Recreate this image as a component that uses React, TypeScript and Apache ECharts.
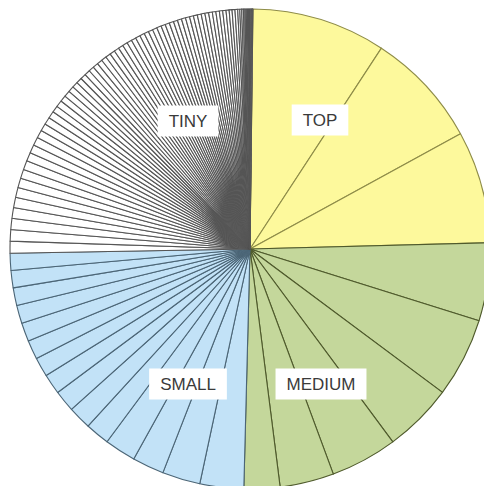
import React, { useEffect, useRef } from "react";
import * as echarts from "echarts";

// Slice values (read as degrees of the full circle), in clockwise order from 12 o'clock
const topValues = [32.5, 28.1, 27.2];
const mediumValues = [18.9, 19.3, 16.8, 16.2, 13.1, 8.7];
const smallValues = [10.6, 9.2, 7.7, 7.6, 5.9, 5.6, 5.2, 4.9, 4.7, 4.6, 4.5, 4.4, 4.3, 4.2, 4.1];
const tinyValues = [
  2.9, 2.8, 2.7, 2.6, 2.5, 2.4, 2.3, 2.2, 2.2, 2.1, 2.0, 2.0, 1.9, 1.8, 1.8, 1.7, 1.6, 1.6,
  1.5, 1.5, 1.4, 1.4, 1.4, 1.35, 1.35, 1.3, 1.3, 1.3, 1.25, 1.25, 1.25, 1.2, 1.2, 1.2, 1.2,
  1.15, 1.15, 1.15, 1.1, 1.1, 1.1, 1.1, 1.05, 1.05, 1.05, 1.0, 1.0, 1.0, 1.0, 0.95, 0.95,
  0.95, 0.9, 0.9, 0.9, 0.85, 0.85, 0.8, 0.8, 0.75, 0.7, 0.7, 0.65,
  0.5, 0.45, 0.4, 0.35, 0.3, 0.28, 0.25, 0.22, 0.2, 0.18, 0.15, 0.12, 0.1, 0.08, 0.06,
];

const groupLabels = ["TOP", "MEDIUM", "SMALL", "TINY"];

export default function App() {
  const ref = useRef<HTMLDivElement>(null);
  useEffect(() => {
    if (!ref.current) return;
    const chart = echarts.init(ref.current, null, { renderer: "svg" });
    const groups = [
      { name: "TOP", values: topValues, fill: "#fdf99c", stroke: "#8e8c48" },
      { name: "MEDIUM", values: mediumValues, fill: "#c4d79b", stroke: "#4f5a2c" },
      { name: "SMALL", values: smallValues, fill: "#c2e2f7", stroke: "#4b6576" },
      { name: "TINY", values: tinyValues, fill: "#ffffff", stroke: "#555555" },
    ];
    const data: any[] = [];
    groups.forEach((g) => {
      g.values.forEach((v, i) => {
        data.push({
          name: g.name + "-" + (i + 1),
          value: v,
          itemStyle: { color: g.fill, borderColor: g.stroke, borderWidth: 1.1 },
        });
      });
    });
    const labelPos: Record<string, [number, number]> = {
      TOP: [320, 120],
      MEDIUM: [321, 384],
      SMALL: [188, 384],
      TINY: [188, 121],
    };
    chart.setOption({
      animation: false,
      backgroundColor: "#ffffff",
      series: [
        {
          type: "pie",
          center: [250, 249],
          radius: [0, 240],
          startAngle: 89.3,
          clockwise: true,
          silent: true,
          avoidLabelOverlap: false,
          label: { show: false },
          labelLine: { show: false },
          emphasis: { disabled: true },
          data,
        },
      ],
      graphic: groupLabels.map((name) => ({
        type: "text",
        x: labelPos[name][0],
        y: labelPos[name][1],
        z: 100,
        style: {
          text: name,
          fill: "#3a3a3a",
          font: '17px "Liberation Sans", Arial, sans-serif',
          align: "center",
          verticalAlign: "middle",
          backgroundColor: "#ffffff",
          padding: [7, 11, 7, 11],
        },
      })),
    });
    return () => chart.dispose();
  }, []);
  return (
    <div
      ref={ref}
      style={{ position: "fixed", left: 0, top: 0, width: 484, height: 486 }}
    />
  );
}
